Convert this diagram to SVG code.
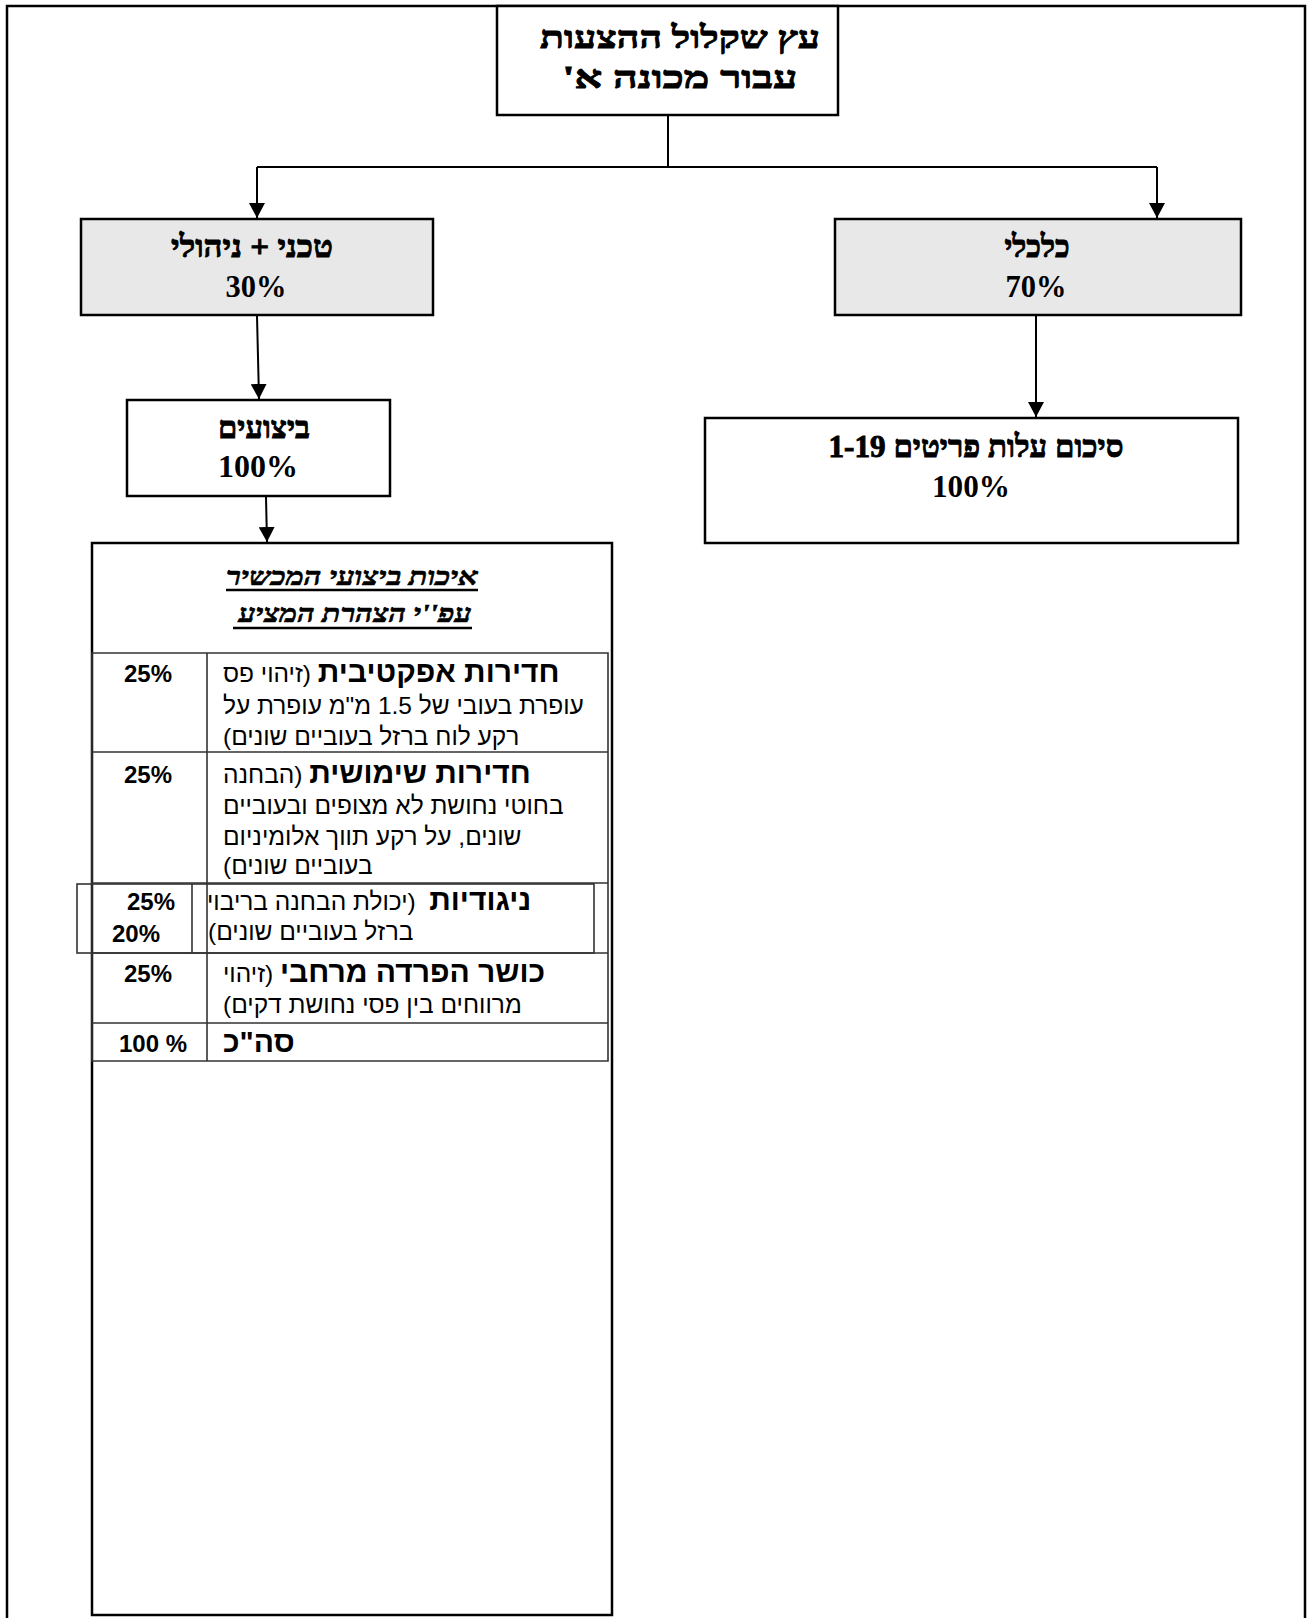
<svg xmlns="http://www.w3.org/2000/svg" width="1308" height="1618" viewBox="0 0 1308 1618">
<style>
.box{fill:#fff;stroke:#000;stroke-width:2.5}
.gray{fill:#e8e8e8;stroke:#000;stroke-width:2.5}
.conn{fill:none;stroke:#000;stroke-width:2}
.tl{fill:none;stroke:#333;stroke-width:1.6}
.ser{font-family:"Liberation Serif","Liberation Sans","DejaVu Sans",serif;font-weight:bold;font-size:31px;fill:#000}
.heb{stroke:#000;stroke-width:0.9}
.hdr{font-family:"Liberation Serif","Liberation Sans","DejaVu Sans",serif;font-weight:bold;font-style:italic;font-size:25px;fill:#000;stroke:#000;stroke-width:0.6}
.san{font-family:"Liberation Sans","DejaVu Sans",sans-serif;font-size:24.5px;fill:#000}
.pct{font-family:"Liberation Sans","DejaVu Sans",sans-serif;font-weight:bold;font-size:24px;fill:#000}
.b{font-weight:bold;font-size:30px}
</style>
<defs>
<marker id="ah" markerUnits="userSpaceOnUse" markerWidth="16" markerHeight="16" refX="15" refY="8" orient="auto">
<path d="M0,0 L15,8 L0,16 z" fill="#000"/>
</marker>
</defs>
<rect width="1308" height="1618" fill="#fff"/>
<g id="frame">
<path d="M7,1620 V6 H1305 V1620" fill="none" stroke="#000" stroke-width="2.5"/>
</g>
<g id="connectors">
<path class="conn" d="M668,115 V167"/>
<path class="conn" d="M257,167 H1157"/>
<path class="conn" d="M257,167 V218" marker-end="url(#ah)"/>
<path class="conn" d="M1157,167 V218" marker-end="url(#ah)"/>
<path class="conn" d="M257,316 L259,399" marker-end="url(#ah)"/>
<path class="conn" d="M1036,316 V417" marker-end="url(#ah)"/>
<path class="conn" d="M266,497 L267,542" marker-end="url(#ah)"/>
</g>
<g id="title">
<rect class="box" x="497" y="6" width="341" height="109"/>
<text class="ser heb" x="680" y="48" text-anchor="middle" direction="rtl" textLength="280" lengthAdjust="spacingAndGlyphs">עץ שקלול ההצעות</text>
<text class="ser heb" x="680" y="88" text-anchor="middle" direction="rtl" textLength="235" lengthAdjust="spacingAndGlyphs">עבור מכונה א'</text>
</g>
<g id="tech">
<rect class="gray" x="81" y="219" width="352" height="96"/>
<text class="ser heb" x="252" y="257" text-anchor="middle" direction="rtl" textLength="162" lengthAdjust="spacingAndGlyphs">טכני + ניהולי</text>
<text class="ser" x="256" y="297" text-anchor="middle" textLength="61" lengthAdjust="spacingAndGlyphs">30%</text>
</g>
<g id="econ">
<rect class="gray" x="835" y="219" width="406" height="96"/>
<text class="ser heb" x="1037" y="257" text-anchor="middle" direction="rtl" textLength="65" lengthAdjust="spacingAndGlyphs">כלכלי</text>
<text class="ser" x="1036" y="297" text-anchor="middle" textLength="61" lengthAdjust="spacingAndGlyphs">70%</text>
</g>
<g id="perf">
<rect class="box" x="127" y="400" width="263" height="96"/>
<text class="ser heb" x="264" y="438" text-anchor="middle" direction="rtl" textLength="92" lengthAdjust="spacingAndGlyphs">ביצועים</text>
<text class="ser" x="258" y="477" text-anchor="middle" textLength="80" lengthAdjust="spacingAndGlyphs">100%</text>
</g>
<g id="sum">
<rect class="box" x="705" y="418" width="533" height="125"/>
<text class="ser heb" x="976" y="457" text-anchor="middle" direction="rtl" textLength="295" lengthAdjust="spacingAndGlyphs">סיכום עלות פריטים  1-19</text>
<text class="ser" x="971" y="497" text-anchor="middle" textLength="78" lengthAdjust="spacingAndGlyphs">100%</text>
</g>
<g id="quality">
<rect class="box" x="92" y="543" width="520" height="1072"/>
<text class="hdr" x="352" y="585" text-anchor="middle" direction="rtl" textLength="252" lengthAdjust="spacingAndGlyphs">איכות ביצועי המכשיר</text>
<line x1="226" y1="590" x2="478" y2="590" stroke="#000" stroke-width="2.5"/>
<text class="hdr" x="355" y="622" text-anchor="middle" direction="rtl" textLength="233" lengthAdjust="spacingAndGlyphs">עפ''י הצהרת המציע</text>
<line x1="233" y1="628" x2="472" y2="628" stroke="#000" stroke-width="2.5"/>
<g id="table">
<path class="tl" d="M92,653 H608 V1061 H92 Z M207,653 V1061 M92,752 H608 M92,883 H608 M92,953 H608 M92,1023 H608"/>
<rect class="tl" x="77" y="884" width="517" height="69"/>
<line class="tl" x1="192" y1="884" x2="192" y2="953"/>
<text class="pct" x="172" y="682" text-anchor="end">25%</text>
<text class="san" x="223" y="682" text-anchor="end" direction="rtl"><tspan class="b">חדירות אפקטיבית</tspan> (זיהוי פס</text>
<text class="san" x="223" y="714" text-anchor="end" direction="rtl">עופרת בעובי של 1.5 מ"מ עופרת על</text>
<text class="san" x="223" y="745" text-anchor="end" direction="rtl">רקע לוח ברזל בעוביים שונים)</text>
<text class="pct" x="172" y="783" text-anchor="end">25%</text>
<text class="san" x="223" y="783" text-anchor="end" direction="rtl"><tspan class="b">חדירות שימושית</tspan> (הבחנה</text>
<text class="san" x="223" y="814" text-anchor="end" direction="rtl">בחוטי נחושת לא מצופים ובעוביים</text>
<text class="san" x="223" y="845" text-anchor="end" direction="rtl">שונים, על רקע תווך אלומיניום</text>
<text class="san" x="223" y="874" text-anchor="end" direction="rtl">בעוביים שונים)</text>
<text class="pct" x="175" y="910" text-anchor="end">25%</text>
<text class="pct" x="160" y="942" text-anchor="end">20%</text>
<text class="san" x="207" y="910" text-anchor="end" direction="rtl" xml:space="preserve"><tspan class="b">ניגודיות</tspan>  (יכולת הבחנה בריבוי</text>
<text class="san" x="208" y="940" text-anchor="end" direction="rtl">ברזל בעוביים שונים)</text>
<text class="pct" x="172" y="982" text-anchor="end">25%</text>
<text class="san" x="223" y="982" text-anchor="end" direction="rtl"><tspan class="b">כושר הפרדה מרחבי</tspan> (זיהוי</text>
<text class="san" x="223" y="1013" text-anchor="end" direction="rtl">מרווחים בין פסי נחושת דקים)</text>
<text class="pct" x="187" y="1052" text-anchor="end">100 %</text>
<text class="san b" x="223" y="1052" text-anchor="end" direction="rtl">סה"כ</text>
</g>
</g>
</svg>
